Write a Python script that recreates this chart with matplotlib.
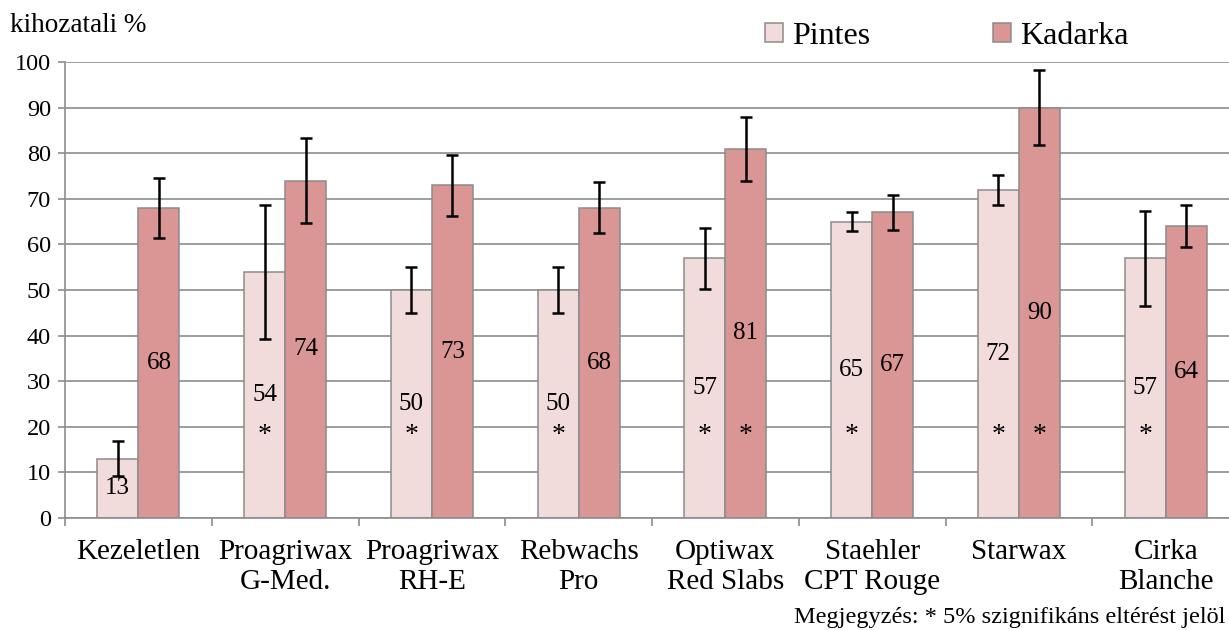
import matplotlib
matplotlib.use("Agg")
import matplotlib.pyplot as plt
import numpy as np
from matplotlib.patches import Patch

plt.rcParams['font.family'] = ['Liberation Serif', 'DejaVu Serif']

categories = ["Kezeletlen", "Proagriwax\nG-Med.", "Proagriwax\nRH-E", "Rebwachs\nPro",
              "Optiwax\nRed Slabs", "Staehler\nCPT Rouge", "Starwax", "Cirka\nBlanche"]
pintes = [13, 54, 50, 50, 57, 65, 72, 57]
kadarka = [68, 74, 73, 68, 81, 67, 90, 64]
pintes_err = [3.8, 14.7, 5.0, 5.0, 6.7, 2.1, 3.3, 10.4]
kadarka_err = [6.5, 9.4, 6.7, 5.6, 7.0, 3.8, 8.3, 4.6]
pintes_sig = [False, True, True, True, True, True, True, True]
kadarka_sig = [False, False, False, False, True, False, True, False]
yticks = list(range(0, 101, 10))

C_P = "#F2DCDB"
C_K = "#D99694"
GRID = "#8c8c8c"

fig = plt.figure(figsize=(12.29, 6.30), dpi=100)
ax = fig.add_axes([65/1229, 1-518/630, 1174/1229, (518-62)/630])

x = np.arange(len(categories))
w = 0.28
ax.set_axisbelow(True)
ax.yaxis.grid(True, color=GRID, linewidth=1.2)
ax.bar(x - w/2, pintes, w, color=C_P, edgecolor=GRID, linewidth=1.1, zorder=2)
ax.bar(x + w/2, kadarka, w, color=C_K, edgecolor=GRID, linewidth=1.1, zorder=2)
ax.errorbar(x - w/2, pintes, yerr=pintes_err, fmt='none', ecolor='black',
            elinewidth=1.8, capsize=4, capthick=1.8, zorder=3)
ax.errorbar(x + w/2, kadarka, yerr=kadarka_err, fmt='none', ecolor='black',
            elinewidth=1.8, capsize=4, capthick=1.8, zorder=3)

STAR_Y = 20
for i in range(len(categories)):
    ax.text(x[i] - w/2, pintes[i]/2, str(pintes[i]), ha='center', va='center',
            fontsize=18, zorder=4)
    ax.text(x[i] + w/2, kadarka[i]/2, str(kadarka[i]), ha='center', va='center',
            fontsize=18, zorder=4)
    if pintes_sig[i]:
        ax.text(x[i] - w/2, STAR_Y - 2, "*", ha='center', va='center', fontsize=20, zorder=4)
    if kadarka_sig[i]:
        ax.text(x[i] + w/2, STAR_Y - 2, "*", ha='center', va='center', fontsize=20, zorder=4)

ax.set_xlim(-0.5, len(categories) - 0.5)
ax.set_ylim(0, 100)
ax.set_yticks(yticks)
ax.tick_params(axis='y', labelsize=17.5, direction='out', length=5, width=1.2,
               color=GRID, pad=5)
ax.set_xticks(np.arange(len(categories) + 1) - 0.5)
ax.set_xticklabels([])
ax.tick_params(axis='x', which='major', direction='out', length=6, width=1.2, color=GRID)
ax.set_xticks(x, minor=True)
ax.set_xticklabels(categories, minor=True, fontsize=21, linespacing=1.22)
ax.tick_params(axis='x', which='minor', length=0, pad=15)

for s in ['top', 'right']:
    ax.spines[s].set_visible(False)
for s in ['left', 'bottom']:
    ax.spines[s].set_color(GRID)
    ax.spines[s].set_linewidth(1.2)

fig.text(10/1229, 1-26/630, "kihozatali %", fontsize=19.5, ha='left', va='center')

handles = [Patch(facecolor=C_P, edgecolor=GRID, linewidth=1.1),
           Patch(facecolor=C_K, edgecolor=GRID, linewidth=1.1)]
fig.legend(handles, ["Pintes", "Kadarka"], loc='center', ncol=2,
           bbox_to_anchor=(947/1229, 1-36/630), frameon=False, fontsize=23,
           handlelength=0.55, handleheight=0.55, handletextpad=0.3, columnspacing=3.85)

fig.text(1225/1229, 1-617/630, "Megjegyzés: * 5% szignifikáns eltérést jelöl",
         fontsize=17.5, ha='right', va='center')

fig.savefig("out.png", dpi=100)
